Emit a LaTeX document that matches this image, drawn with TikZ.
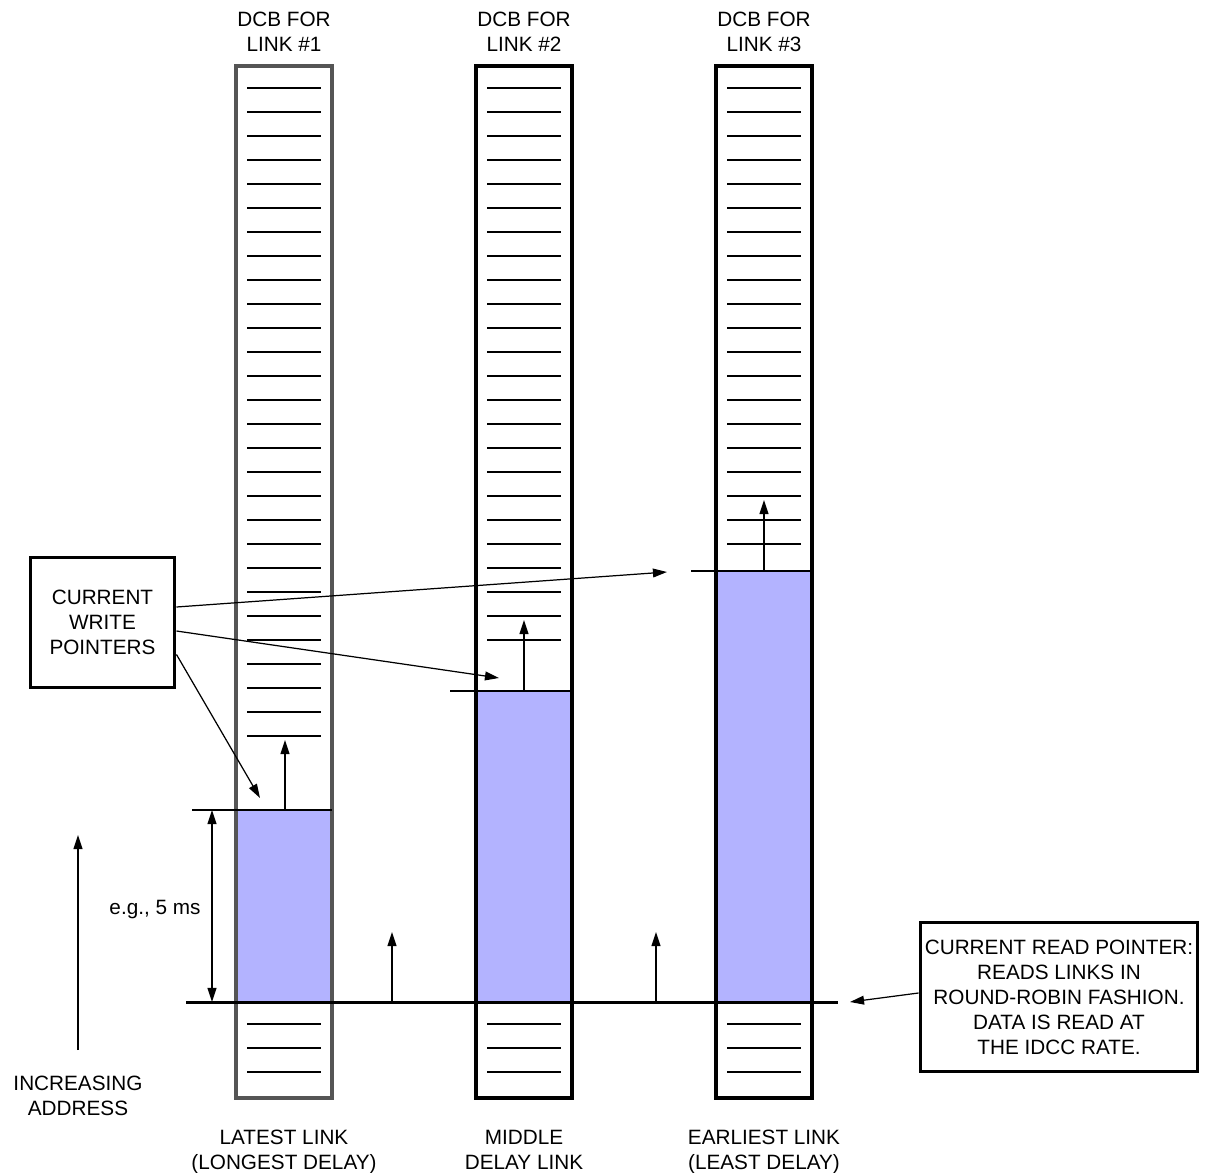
\documentclass[tikz,border=0pt]{standalone}
\usepackage{fontspec}
\setmainfont{Liberation Sans}
\usetikzlibrary{arrows.meta,calc}
\definecolor{bufblue}{RGB}{179,179,255}
\definecolor{edgegray}{RGB}{85,85,85}

\begin{document}
\begin{tikzpicture}[x=0.02cm,y=-0.02cm,
    lbl/.style={align=center,inner sep=0pt,font=\fontsize{11.8}{14.2}\selectfont},
    note/.style={lbl,draw,line width=1.7pt},
    slot/.style={line width=1.1pt},
    ptr/.style={line width=1.7pt},
    up/.style={-{Triangle[length=8pt,width=5pt]},line width=1.1pt},
    lead/.style={-{Triangle[length=8pt,width=5pt]},line width=0.7pt}]
    \useasboundingbox (0,0) rectangle (1208,1173);

    % the three delay buffers
    \foreach \k/\xl/\wy/\nl/\clr in {1/236/810/27/edgegray,2/476/691/23/black,3/716/571/19/black} {
      \fill[bufblue] (\xl,\wy) rectangle (\xl+96,1002);
      \foreach \i in {0,...,\nl}
        \draw[slot] (\xl+11,88+24*\i) -- (\xl+85,88+24*\i);
      \foreach \yy in {1024,1048,1072}
        \draw[slot] (\xl+11,\yy) -- (\xl+85,\yy);
      \draw[\clr,line width=1.8pt] (\xl,66) rectangle (\xl+96,1098);
    };

    % labels above and below
    \node[lbl] (top1) at (284,32) {DCB FOR\\LINK \#1};
    \node[lbl] (top2) at (524,32) {DCB FOR\\LINK \#2};
    \node[lbl] (top3) at (764,32) {DCB FOR\\LINK \#3};
    \node[lbl] (bot1) at (284,1152) {LATEST LINK\\(LONGEST DELAY)};
    \node[lbl] (bot2) at (524,1150) {MIDDLE\\DELAY LINK};
    \node[lbl] (bot3) at (764,1152) {EARLIEST LINK\\(LEAST DELAY)};

    % write pointers
    \draw[ptr] (192,810) -- (332,810);
    \draw[ptr] (450,691) -- (572,691);
    \draw[ptr] (691,571) -- (812,571);
    \draw[up] (285,810) -- (285,740);
    \draw[up] (524,691) -- (524,620);
    \draw[up] (764,571) -- (764,500);

    % read pointer
    \draw[ptr] (186,1002) -- (838,1002);
    \draw[up] (392,1002) -- (392,932);
    \draw[up] (656,1002) -- (656,932);

    % delay span
    \coordinate (d0) at (212,810);
    \coordinate (d1) at (212,1002);
    \draw[{Triangle[length=8pt,width=5pt]}-{Triangle[length=8pt,width=5pt]},line width=1.1pt] (d0) -- (d1);
    \node[lbl] (span) at (155,910) {e.g., 5 ms};

    % address direction
    \coordinate (a0) at (78,1050);
    \coordinate (a1) at (78,835);
    \draw[up] (a0) -- (a1);
    \node[lbl] (addr) at (78,1096) {INCREASING\\ADDRESS};

    % callout boxes
    \node[note,minimum width=2.9cm,minimum height=2.62cm] (wbox) at (102.5,622.5)
      {CURRENT\\WRITE\\POINTERS};
    \node[note,minimum width=5.56cm,minimum height=3cm] (rbox) at (1059,997)
      {CURRENT READ POINTER:\\READS LINKS IN\\ROUND-ROBIN FASHION.\\DATA IS READ AT\\THE IDCC RATE.};

    \coordinate (w1) at (260,798);
    \coordinate (w2) at (499,678);
    \coordinate (w3) at (667,572);
    \coordinate (rp) at (850,1002);
    \draw[lead] ($(wbox.east)+(0,-15.5)$) -- (w3);
    \draw[lead] ($(wbox.east)+(0,8.5)$) -- (w2);
    \draw[lead] ($(wbox.east)+(0,32)$) -- (w1);
    \draw[lead] ($(rbox.west)+(0,-4)$) -- (rp);
\end{tikzpicture}
\end{document}
